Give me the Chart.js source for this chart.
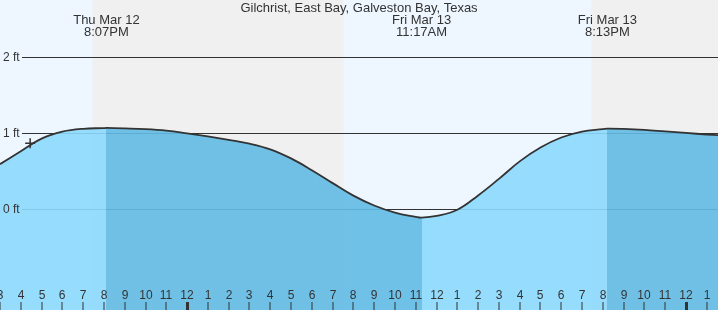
<!DOCTYPE html>
<html>
<head>
<meta charset="utf-8">
<script src="https://cdn.jsdelivr.net/npm/chart.js@4/dist/chart.umd.min.js"></script>
<style>
    html, body { margin: 0; padding: 0; background: #fff; }
    #wrap { width: 718px; height: 310px; }
</style>
</head>
<body>
<div id="wrap"><canvas id="tide-chart" width="718" height="310"></canvas></div>
<script>
// hours relative to midnight Thu/Fri (Mar 13 00:00)
const tideHours = [-9, -8, -7, -6, -5, -4, -3.88, -3, -2, -1, 0, 1, 2, 3, 4, 5, 6, 7, 8, 9, 10, 11, 11.28,
    12, 13, 14, 15, 16, 17, 18, 19, 20, 20.22, 21, 22, 23, 24, 25, 25.6];
const tideFeet = [0.59, 0.76, 0.926, 1.017, 1.055, 1.064, 1.066, 1.06, 1.05, 1.03, 0.995, 0.955, 0.91, 0.86, 0.785, 0.665, 0.51, 0.34, 0.175, 0.045, -0.048, -0.105, -0.115,
    -0.092, -0.01, 0.178, 0.396, 0.626, 0.808, 0.94, 1.018, 1.05, 1.057, 1.053, 1.04, 1.02, 1.00, 0.98, 0.97];

const highHours = [-3.88, 20.22];
const lowHours = [11.28];
const eventHours = [-3.88, 11.28, 20.22];
const eventDays = ['Thu Mar 12', 'Fri Mar 13', 'Fri Mar 13'];
const eventTimes = ['8:07PM', '11:17AM', '8:13PM'];

const sunsetHours = [-4.55, 19.45];
const sunriseHours = [7.53];

const nowHour = [-7.55];
const nowFeet = [0.865];

const yTicks = [0, 1, 2];
const yTickLabels = ['0 ft', '1 ft', '2 ft'];

const hourTicks = [];
for (let h = -9; h <= 25; h++) hourTicks.push(h);
const hourLabels = hourTicks.map(h => {
    const hh = ((h % 24) + 24) % 24;
    const v = hh % 12;
    return String(v === 0 ? 12 : v);
});

const titleText = 'Gilchrist, East Bay, Galveston Bay, Texas';
const FONT = '"Liberation Sans", Arial, sans-serif';
const INK = '#333333';
const LIGHT_FILL = 'rgba(140, 217, 253, 0.9)';
const DARK_FILL = 'rgba(98, 187, 229, 0.9)';

// rising tide = light, falling tide = dark, switching at each high / low
function tideFill(c) {
    const chart = c.chart;
    if (!chart.chartArea || !chart.scales.x) return LIGHT_FILL;
    const xs = chart.scales.x;
    const W = chart.width;
    const g = chart.ctx.createLinearGradient(0, 0, W, 0);
    const stop = h => Math.min(1, Math.max(0, xs.getPixelForValue(h) / W));
    const a = stop(highHours[0]), b = stop(lowHours[0]), d = stop(highHours[1]);
    g.addColorStop(0, LIGHT_FILL);
    g.addColorStop(a, LIGHT_FILL);
    g.addColorStop(a, DARK_FILL);
    g.addColorStop(b, DARK_FILL);
    g.addColorStop(b, LIGHT_FILL);
    g.addColorStop(d, LIGHT_FILL);
    g.addColorStop(d, DARK_FILL);
    g.addColorStop(1, DARK_FILL);
    return g;
}

const backdropPlugin = {
    id: 'backdrop',
    beforeDatasetsDraw(chart) {
        const ctx = chart.ctx;
        const xs = chart.scales.x;
        const ys = chart.scales.y;
        const W = chart.width, H = chart.height;
        ctx.save();
        // day / night bands
        ctx.fillStyle = '#eef7ff';
        ctx.fillRect(0, 0, W, H);
        ctx.fillStyle = '#f0f0f0';
        const x1 = xs.getPixelForValue(sunsetHours[0]);
        const x2 = xs.getPixelForValue(sunriseHours[0]);
        const x3 = xs.getPixelForValue(sunsetHours[1]);
        ctx.fillRect(x1, 0, x2 - x1, H);
        ctx.fillRect(x3, 0, W - x3, H);

        // grid lines
        ctx.strokeStyle = INK;
        ctx.lineWidth = 1;
        yTicks.forEach(v => {
            const y = Math.round(ys.getPixelForValue(v)) + 0.5;
            ctx.beginPath();
            ctx.moveTo(22, y);
            ctx.lineTo(W, y);
            ctx.stroke();
        });
        ctx.restore();
    },
    afterDatasetsDraw(chart) {
        const ctx = chart.ctx;
        const xs = chart.scales.x;
        const ys = chart.scales.y;
        const W = chart.width, H = chart.height;
        ctx.save();
        ctx.fillStyle = INK;
        ctx.strokeStyle = INK;
        ctx.textBaseline = 'middle';

        // y labels
        ctx.font = '12px ' + FONT;
        ctx.textAlign = 'left';
        yTicks.forEach((v, i) => {
            ctx.fillText(yTickLabels[i], 3, Math.round(ys.getPixelForValue(v)) + 0.5);
        });

        ctx.textAlign = 'center';
        // hour ticks along the bottom
        hourTicks.forEach((h, i) => {
            const x = Math.round(xs.getPixelForValue(h));
            const midnight = ((h % 24) + 24) % 24 === 0;
            ctx.fillRect(x - (midnight ? 1 : 0.5), 302, midnight ? 3 : 1, H - 302);
            ctx.fillText(hourLabels[i], x, 296);
        });

        // title
        ctx.font = '13px ' + FONT;
        ctx.fillText(titleText, W / 2, 8);

        // high / low labels
        eventHours.forEach((h, i) => {
            const x = xs.getPixelForValue(h);
            ctx.fillText(eventDays[i], x, 20);
            ctx.fillText(eventTimes[i], x, 32);
        });
        ctx.restore();
    }
};

new Chart(document.getElementById('tide-chart').getContext('2d'), {
    type: 'line',
    data: {
        datasets: [{
            label: 'now',
            data: nowHour.map((h, i) => ({ x: h, y: nowFeet[i] })),
            showLine: false,
            pointStyle: 'cross',
            pointRadius: 5,
            borderColor: INK,
            borderWidth: 1.5,
            fill: false
        }, {
            label: 'tide',
            data: tideHours.map((h, i) => ({ x: h, y: tideFeet[i] })),
            borderColor: INK,
            borderWidth: 1.8,
            backgroundColor: tideFill,
            fill: 'start',
            pointRadius: 0,
            tension: 0.4
        }]
    },
    options: {
        responsive: false,
        animation: false,
        layout: { padding: 0, autoPadding: false },
        plugins: {
            legend: { display: false },
            tooltip: { enabled: false }
        },
        scales: {
            x: { type: 'linear', display: false, min: -9, max: 25.54 },
            y: { type: 'linear', display: false, min: -1.33, max: 2.75 }
        }
    },
    plugins: [backdropPlugin]
});
</script>
</body>
</html>
